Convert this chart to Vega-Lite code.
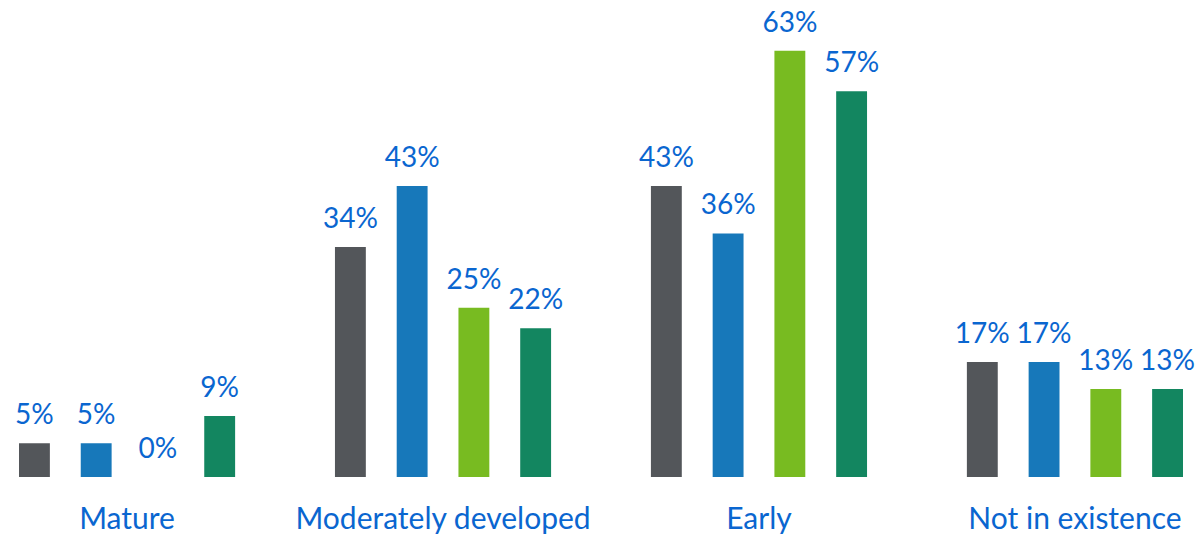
{
  "$schema": "https://vega.github.io/schema/vega-lite/v6.json",
  "width": 1164,
  "height": 477,
  "padding": {"left": 15, "top": 0, "right": 16, "bottom": 0},
  "autosize": {"type": "pad"},
  "background": "white",
  "config": {"view": {"stroke": null}, "font": "Lato"},
  "data": {"values": [
    {"stage": "Mature", "series": "S1", "value": 0.05},
    {"stage": "Mature", "series": "S2", "value": 0.05},
    {"stage": "Mature", "series": "S3", "value": 0},
    {"stage": "Mature", "series": "S4", "value": 0.09},
    {"stage": "Moderately developed", "series": "S1", "value": 0.34},
    {"stage": "Moderately developed", "series": "S2", "value": 0.43},
    {"stage": "Moderately developed", "series": "S3", "value": 0.25},
    {"stage": "Moderately developed", "series": "S4", "value": 0.22},
    {"stage": "Early", "series": "S1", "value": 0.43},
    {"stage": "Early", "series": "S2", "value": 0.36},
    {"stage": "Early", "series": "S3", "value": 0.63},
    {"stage": "Early", "series": "S4", "value": 0.57},
    {"stage": "Not in existence", "series": "S1", "value": 0.17},
    {"stage": "Not in existence", "series": "S2", "value": 0.17},
    {"stage": "Not in existence", "series": "S3", "value": 0.13},
    {"stage": "Not in existence", "series": "S4", "value": 0.13}
  ]},
  "encoding": {
    "x": {"field": "stage", "type": "nominal", "sort": ["Mature", "Moderately developed", "Early", "Not in existence"],
      "scale": {"paddingInner": 0.316, "paddingOuter": 0},
      "axis": {"title": null, "domain": false, "ticks": false, "labelAngle": 0, "labelFontSize": 30, "labelColor": "#0A66D0", "labelPadding": 27, "labelFont": "Lato", "labelLimit": 0}},
    "xOffset": {"field": "series", "type": "nominal", "scale": {"paddingInner": 0.5, "paddingOuter": 0}},
    "y": {"field": "value", "type": "quantitative", "scale": {"domain": [0, 0.705], "nice": false}, "axis": null}
  },
  "layer": [
    {"mark": {"type": "bar"},
      "encoding": {"color": {"field": "series", "type": "nominal", "legend": null,
        "scale": {"domain": ["S1", "S2", "S3", "S4"], "range": ["#53565A", "#1778BA", "#78BB21", "#138660"]}}}},
    {"mark": {"type": "text", "baseline": "bottom", "dy": -13, "fontSize": 28, "color": "#0A66D0", "font": "Lato"},
      "encoding": {"text": {"field": "value", "type": "quantitative", "format": ".0%"}}}
  ]
}
